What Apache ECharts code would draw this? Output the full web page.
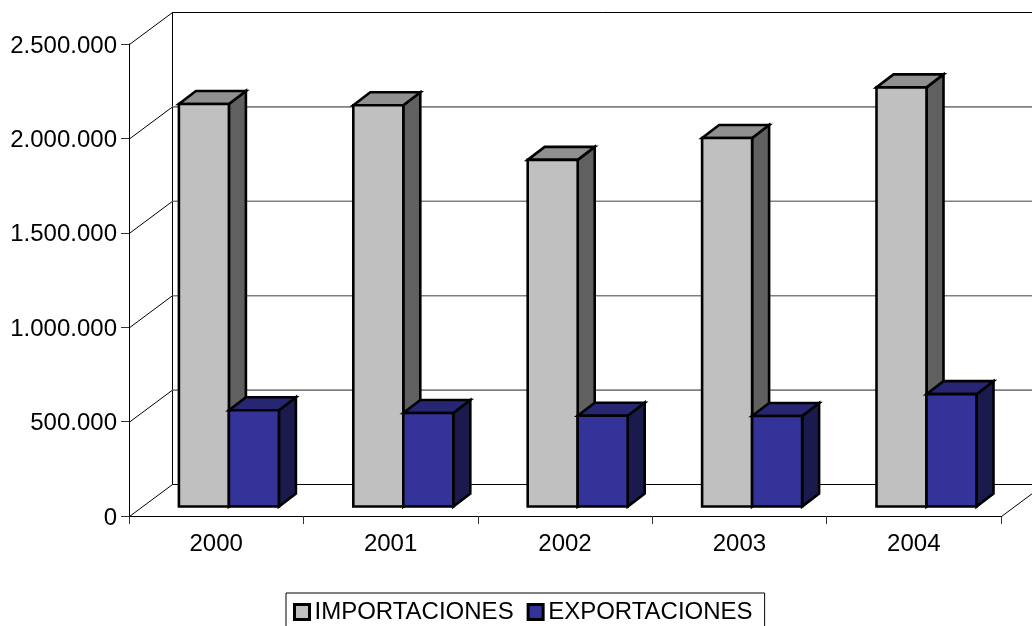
<!DOCTYPE html>
<html><head><meta charset="utf-8">
<style>html,body{margin:0;padding:0;background:#fff;overflow:hidden}#c{width:1032px;height:626px}</style>
<script src="https://cdn.jsdelivr.net/npm/echarts@6/dist/echarts.min.js"></script>
</head><body><div id="c"></div>
<script>
const categories = ['2000','2001','2002','2003','2004'];
const importaciones = [2132000,2125000,1836000,1952000,2220000];
const exportaciones = [510000,495000,481000,479000,595000];
const yTicks = [0,500000,1000000,1500000,2000000,2500000];

// oblique projection constants
const WALL = [43,-32], GAP = [12.7,-9.5], DEPTH = [17,-13], BAR_W = 50;

const FONT = '"Liberation Sans", Arial, sans-serif';
const fmt = v => String(v).replace(/\B(?=(\d{3})+$)/g,'.');

function poly(pts, fill, lw){
  return {type:'polygon',shape:{points:pts},style:{fill:fill,stroke:'#000',lineWidth:lw||2.6,lineJoin:'miter'}};
}
function line(x1,y1,x2,y2,stroke,lw){
  return {type:'line',shape:{x1,y1,x2,y2},style:{stroke:stroke,lineWidth:lw||1}};
}
function renderWall(params, api){
  const cs = params.coordSys, v = api.value(1);
  const y = api.coord([0,v])[1] + .5, x0 = cs.x + .5, xb = x0 + WALL[0], yb = y + WALL[1];
  const isEdge = v === yTicks[0] || v === yTicks[yTicks.length-1];
  const kids = [
    line(x0,y,xb,yb,'#000',1),
    line(xb,yb,xb+cs.width,yb,isEdge?'#000':'#808080',isEdge?1:1.6)
  ];
  if (v === yTicks[0]) {
    kids.push(line(xb,yb,xb,yb-cs.height,'#000',1));
    kids.push(line(x0+cs.width,y,xb+cs.width,yb,'#000',1));
  }
  return {type:'group',children:kids};
}
function barRenderer(side, front, top, dark){
  return function(params, api){
    const p = api.coord([api.value(0), api.value(1)]);
    const base = api.coord([api.value(0), 0]);
    const l = p[0] + GAP[0] + (side < 0 ? -BAR_W : 0), r = l + BAR_W;
    const t = p[1] + GAP[1], b = base[1] + GAP[1];
    const dx = DEPTH[0], dy = DEPTH[1];
    return {type:'group',children:[
      poly([[r,t],[r+dx,t+dy],[r+dx,b+dy],[r,b]],dark),
      poly([[l,t],[l+dx,t+dy],[r+dx,t+dy],[r,t]],top),
      poly([[l,t],[r,t],[r,b],[l,b]],front)
    ]};
  };
}
const chart = echarts.init(document.getElementById('c'),null,{renderer:'canvas'});
chart.setOption({
  animation:false,
  backgroundColor:'#fff',
  grid:{left:129,top:44,width:872,height:472,containLabel:false},
  xAxis:{type:'category',data:categories,
    axisLine:{onZero:false,lineStyle:{color:'#000',width:1}},
    axisTick:{show:true,length:8,lineStyle:{color:'#333'}},
    axisLabel:{color:'#000',fontFamily:FONT,fontSize:24,margin:16,interval:0},
    splitLine:{show:false}},
  yAxis:{type:'value',min:0,max:2500000,interval:500000,
    axisLine:{show:true,lineStyle:{color:'#000',width:1}},
    axisTick:{show:true,length:8,lineStyle:{color:'#333'}},
    axisLabel:{color:'#000',fontFamily:FONT,fontSize:24,margin:12,verticalAlign:'top',lineHeight:28,padding:[-12,0,0,0],formatter:v=>fmt(v)},
    splitLine:{show:false}},
  legend:{
    left:286,top:593,orient:'horizontal',
    padding:[7,12,11,7],
    backgroundColor:'#fff',borderColor:'#000',borderWidth:1,
    itemWidth:15,itemHeight:15,itemGap:13,
    textStyle:{color:'#000',fontFamily:FONT,fontSize:24},
    data:[
      {name:'IMPORTACIONES',icon:'rect',itemStyle:{color:'#C0C0C0',borderColor:'#000',borderWidth:3,opacity:1}},
      {name:'EXPORTACIONES',icon:'rect',itemStyle:{color:'#333399',borderColor:'#000',borderWidth:3,opacity:1}}
    ]},
  series:[
    {type:'custom',name:'walls',silent:true,z:1,renderItem:renderWall,
      data:yTicks.map(v=>[0,v])},
    {type:'custom',name:'IMPORTACIONES',silent:true,z:2,
      renderItem:barRenderer(-1,'#C0C0C0','#909090','#606060'),
      itemStyle:{color:'#C0C0C0',borderColor:'#000',borderWidth:3},
      data:importaciones.map((v,i)=>[i,v])},
    {type:'custom',name:'EXPORTACIONES',silent:true,z:3,
      renderItem:barRenderer(1,'#333399','#262673','#1A1A4D'),
      itemStyle:{color:'#333399',borderColor:'#000',borderWidth:3},
      data:exportaciones.map((v,i)=>[i,v])}
  ]
});
</script></body></html>
